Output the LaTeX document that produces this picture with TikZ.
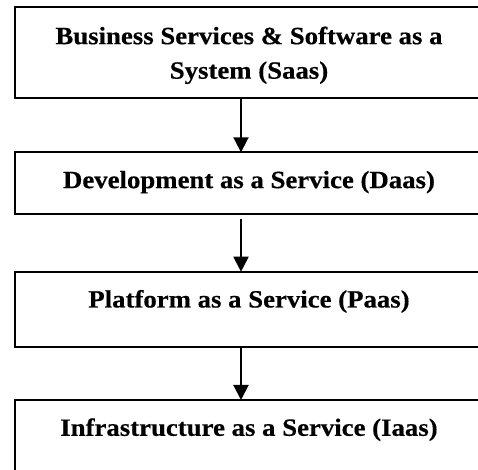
\documentclass[tikz,border=0pt]{standalone}
\usepackage{fontspec}
\setmainfont[FakeStretch=1.08,FakeBold=0.4]{Liberation Serif}
\usetikzlibrary{arrows.meta,positioning}
\tikzset{
    every picture/.style={line join=miter},
    layerbox/.style={draw=black,line width=1pt,minimum width=234pt,
      inner sep=0pt,outer sep=0pt},
    layertext/.style={font=\fontsize{12.4pt}{17.25pt}\selectfont\bfseries,
      inner sep=0pt,align=center,text height=8.2pt},
    flowarrow/.style={-{Triangle[length=7.5pt,width=7.5pt]},draw=black,
      line width=1pt}
}
\begin{document}
\begin{tikzpicture}[x=0.5pt,y=-0.5pt]
  \useasboundingbox (0,0) rectangle (478,470);
  \clip (0,0) rectangle (478,470);
  % the four layers, top to bottom
  \node[layerbox,minimum height=45.5pt] (saas) at (249,52.8) {};
  \node[layerbox,minimum height=31pt] (daas) at (249,183.3) {};
  \node[layerbox,minimum height=37.8pt] (paas) at (249,309.5) {};
  \node[layerbox,minimum height=40pt] (iaas) at (249,440) {};
  \node[layertext,text height=,below=9.5pt of saas.north] (saastxt)
    {Business Services \& Software as a\\System (Saas)};
  \node[layertext,below=9.5pt of daas.north] (daastxt)
    {Development as a Service (Daas)};
  \node[layertext,below=9.5pt of paas.north] (paastxt)
    {Platform as a Service (Paas)};
  \node[layertext,below=9.5pt of iaas.north] (iaastxt)
    {Infrastructure as a Service (Iaas)};
  \coordinate (spine) at (241,0);
  \draw[flowarrow] (saas.south -| spine) -- (daas.north -| spine);
  \draw[flowarrow,shorten <=2.5pt] (daas.south -| spine) -- (paas.north -| spine);
  \draw[flowarrow] (paas.south -| spine) -- (iaas.north -| spine);
\end{tikzpicture}
\end{document}
